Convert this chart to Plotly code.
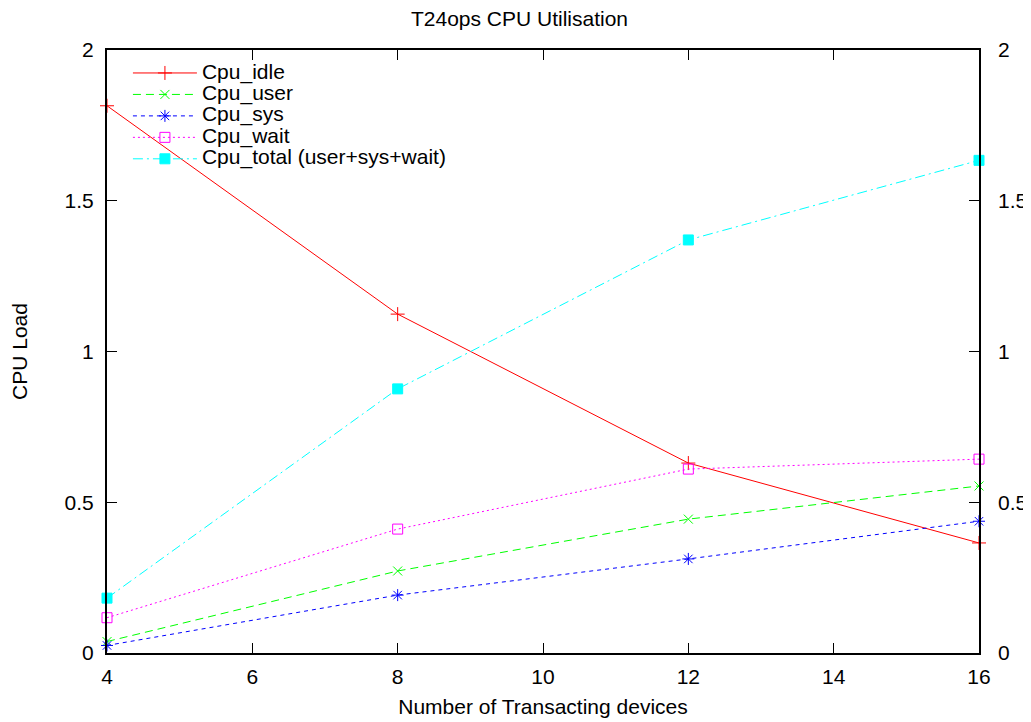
import plotly.graph_objects as go

devices = [4, 8, 12, 16]
cpu_idle = [1.815, 1.124, 0.630, 0.365]
cpu_user = [0.038, 0.272, 0.444, 0.554]
cpu_sys = [0.025, 0.192, 0.312, 0.437]
cpu_wait = [0.117, 0.411, 0.610, 0.643]
cpu_total = [0.182, 0.876, 1.370, 1.634]

x_ticks = [4, 6, 8, 10, 12, 14, 16]
y_ticks = [0, 0.5, 1, 1.5, 2]
y_tick_text = ["0", "0.5", "1", "1.5", "2"]

FONT = "Liberation Sans, Arial, sans-serif"
FS = 21

series = [
    ("Cpu_idle", cpu_idle, "#ff0000", "solid", "cross-thin", 10),
    ("Cpu_user", cpu_user, "#00ff00", "8px,5px", "x-thin", 9),
    ("Cpu_sys", cpu_sys, "#0000ff", "4px,4px", "asterisk", 10),
    ("Cpu_wait", cpu_wait, "#ff00ff", "2px,3px", "square-open", 10),
    ("Cpu_total (user+sys+wait)", cpu_total, "#00ffff", "10px,4px,2px,4px", "square", 10),
]

fig = go.Figure()
for name, vals, color, dash, sym, size in series:
    fig.add_trace(go.Scatter(
        x=devices, y=vals, mode="lines+markers",
        name='<span style="font-size:%dpx">%s</span>' % (FS, name),
        line=dict(color=color, width=1, dash=dash),
        marker=dict(symbol=sym, size=size, color=color,
                    line=dict(color=color, width=1)),
        cliponaxis=False,
    ))

# invisible trace to draw the right-hand axis
fig.add_trace(go.Scatter(x=devices, y=cpu_total, yaxis="y2", showlegend=False,
                         mode="lines", line=dict(width=0), hoverinfo="skip",
                         opacity=0))

# the page body adds an 8px margin, so the figure is drawn 8px smaller
fig.update_layout(
    width=1023, height=714,
    margin=dict(l=99, r=52, t=42, b=69, autoexpand=False),
    paper_bgcolor="white", plot_bgcolor="white",
    font=dict(family=FONT, size=FS, color="black"),
    title=dict(text="T24ops CPU Utilisation", x=0.5, xanchor="center",
               y=1 - 11 / 714, yanchor="middle", font=dict(size=FS),
               automargin=False),
    xaxis=dict(range=[4, 16], tickvals=x_ticks, ticks="inside", ticklen=10,
               tickwidth=1, tickcolor="black", showline=True, linecolor="black",
               linewidth=2, mirror="ticks", showgrid=False, zeroline=False,
               automargin=False,
               tickfont=dict(size=FS), ticklabelstandoff=4,
               title=dict(text="Number of Transacting devices", standoff=12,
                          font=dict(size=FS))),
    yaxis=dict(range=[0, 2], tickvals=y_ticks, ticktext=y_tick_text, ticks="inside",
               ticklen=10, tickwidth=1, tickcolor="black", showline=True,
               linecolor="black", linewidth=2, mirror=True, showgrid=False,
               zeroline=False, automargin=False,
               tickfont=dict(size=FS), ticklabelstandoff=7,
               title=dict(text="CPU Load", standoff=34, font=dict(size=FS))),
    yaxis2=dict(range=[0, 2], tickvals=y_ticks, ticktext=y_tick_text, overlaying="y",
                side="right", anchor="x", ticks="inside", ticklen=10, tickwidth=1,
                tickcolor="black", showgrid=False, zeroline=False, showline=False,
                automargin=False,
                tickfont=dict(size=FS), ticklabelstandoff=18),
    legend=dict(x=0.024, y=0.988, xanchor="left", yanchor="top",
                bgcolor="rgba(0,0,0,0)", borderwidth=0, itemwidth=64,
                font=dict(size=14.2), tracegroupgap=0),
    showlegend=True,
)

fig.write_html("out.html")
